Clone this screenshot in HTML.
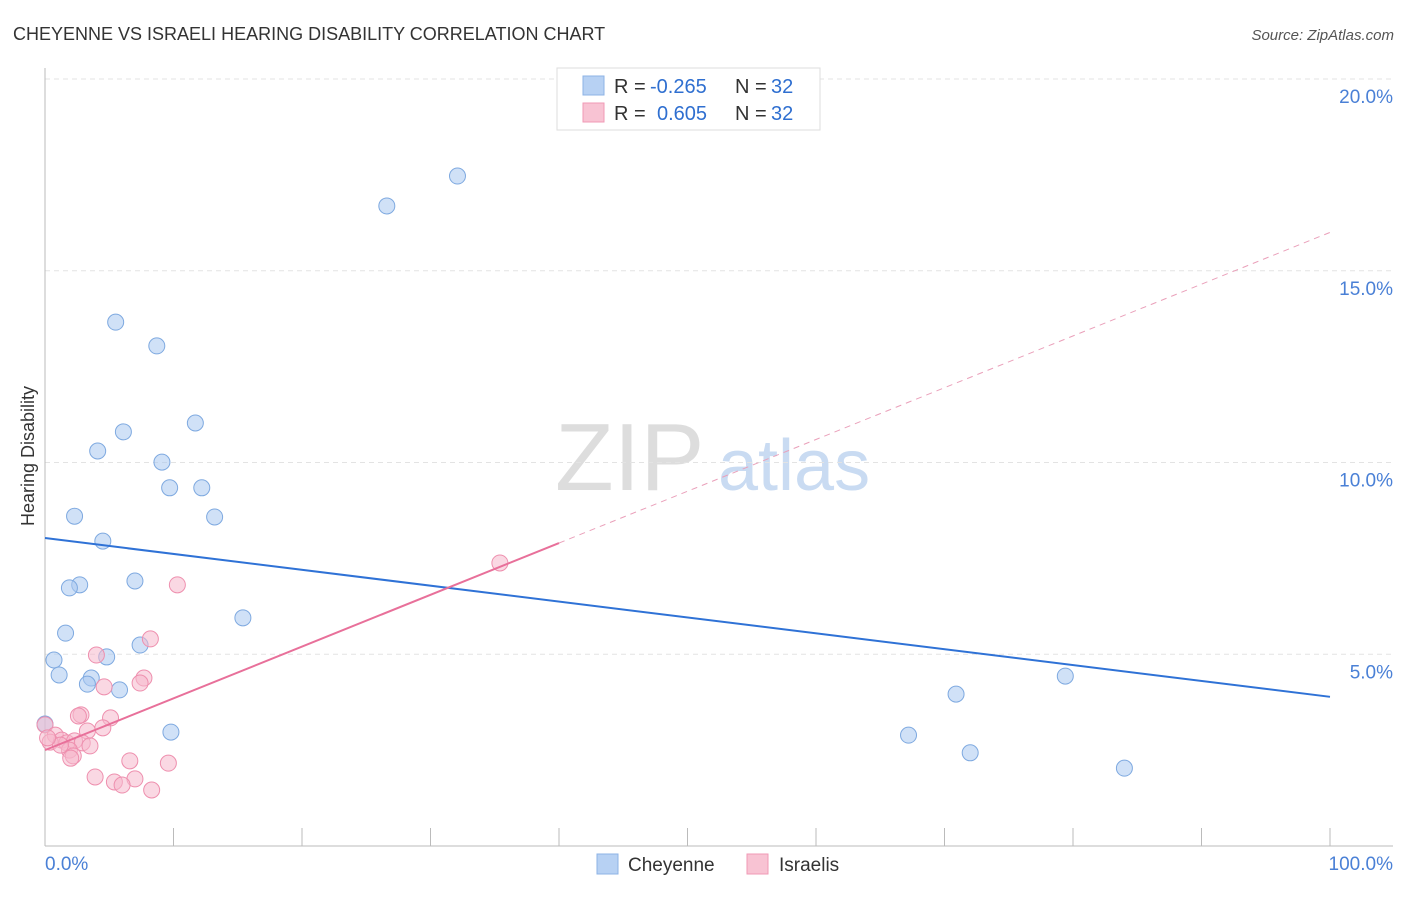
<!DOCTYPE html>
<html><head><meta charset="utf-8"><style>
body{margin:0;background:#fff;font-family:"Liberation Sans",sans-serif;}
svg text{font-family:"Liberation Sans",sans-serif;}
</style></head><body>
<svg id="chart" width="1406" height="892" xmlns="http://www.w3.org/2000/svg">
<text x="13" y="40" font-size="18" fill="#333">CHEYENNE VS ISRAELI HEARING DISABILITY CORRELATION CHART</text>
<text x="1394" y="40" font-size="15" fill="#555" text-anchor="end" font-style="italic">Source: ZipAtlas.com</text>
<g>
<text x="555" y="490" font-size="96" fill="#ddd" font-family="Liberation Serif">ZIP</text>
<text x="718" y="490" font-size="72" fill="#c9dbf2">atlas</text>
</g>
<g id="grid"></g><g id="axes"></g><g id="marks"></g>
<text transform="translate(34,456) rotate(-90)" font-size="18" fill="#333" text-anchor="middle">Hearing Disability</text>
<g>
<rect x="557" y="68" width="263" height="62" fill="#fff" stroke="#ddd"/>
<rect x="583" y="76" width="21" height="19" fill="#b7d1f3" stroke="#8db3e6"/>
<rect x="583" y="103" width="21" height="19" fill="#f8c3d3" stroke="#f09ab6"/>
<text x="614" y="93" font-size="20" fill="#333">R =</text>
<text x="650" y="93" font-size="20" fill="#2f6fd0">-0.265</text>
<text x="735" y="93" font-size="20" fill="#333">N =</text>
<text x="771" y="93" font-size="20" fill="#2f6fd0">32</text>
<text x="614" y="120" font-size="20" fill="#333">R =</text>
<text x="657" y="120" font-size="20" fill="#2f6fd0">0.605</text>
<text x="735" y="120" font-size="20" fill="#333">N =</text>
<text x="771" y="120" font-size="20" fill="#2f6fd0">32</text>
</g>
<g>
<rect x="597" y="854" width="21" height="20" fill="#b7d1f3" stroke="#8db3e6"/>
<text x="628" y="871" font-size="19" fill="#333">Cheyenne</text>
<rect x="747" y="854" width="21" height="20" fill="#f8c3d3" stroke="#f09ab6"/>
<text x="779" y="871" font-size="19" fill="#333">Israelis</text>
</g>
</svg>
<script>
const blueX=[5.5,8.7,26.6,32.1,6.1,4.1,11.7,9.1,9.7,12.2,2.3,13.2,4.5,2.7,1.9,7.0,15.4,1.6,7.4,0.7,4.8,1.1,3.6,3.3,5.8,9.8,0.0,67.2,70.9,72.0,79.4,84.0];
const blueY=[13.66,13.04,16.69,17.47,10.80,10.30,11.03,10.01,9.34,9.34,8.60,8.58,7.95,6.81,6.73,6.91,5.95,5.55,5.24,4.85,4.93,4.46,4.38,4.22,4.07,2.97,3.18,2.89,3.96,2.43,4.43,2.03];
const pinkX=[35.4,10.3,8.2,4.0,7.7,7.4,4.6,2.8,2.6,5.1,4.5,3.3,0,0.8,1.3,0.4,1.7,2.3,2.9,3.5,1.9,2.2,2.0,6.6,9.6,3.9,7.0,5.4,6.0,8.3,1.2,0.2];
const pinkY=[7.38,6.81,5.40,4.98,4.38,4.25,4.15,3.42,3.39,3.34,3.08,3.00,3.16,2.89,2.76,2.71,2.69,2.74,2.69,2.61,2.50,2.35,2.29,2.22,2.16,1.80,1.75,1.67,1.59,1.46,2.63,2.82];
const yTicks=[5,10,15,20];
const yTickLabels=["5.0%","10.0%","15.0%","20.0%"];
const xTicks=[0,10,20,30,40,50,60,70,80,90,100];
const blueTrend=[8.03,3.89];
const pinkTrend=[2.50,16.0];
const pinkSolidEnd=40;
const sx=v=>45+v*12.85, sy=v=>846-v*38.35;
const NS="http://www.w3.org/2000/svg";
function mk(t,a,p){const e=document.createElementNS(NS,t);for(const k in a)e.setAttribute(k,a[k]);p.appendChild(e);return e;}
const grid=document.getElementById('grid'),axes=document.getElementById('axes'),marks=document.getElementById('marks');
yTicks.forEach((v,i)=>{
 const l=mk('line',{x1:45,x2:1393,y1:sy(v),y2:sy(v),stroke:'#e3e3e3','stroke-dasharray':'5,4'},grid);
 
 
 const t=mk('text',{x:1393,y:sy(v)+24,'font-size':19,fill:'#4a80d6','text-anchor':'end'},axes);
 t.textContent=yTickLabels[i];
 
 
});
const ax=mk('line',{x1:45,x2:45,y1:68,y2:846,stroke:'#bbb'},axes);


const bx=mk('line',{x1:45,x2:1393,y1:846,y2:846,stroke:'#bbb'},axes);


xTicks.forEach(v=>{const t=mk('line',{x1:sx(v),x2:sx(v),y1:828,y2:846,stroke:'#bbb'},axes);
 
 });
const xl0=mk('text',{x:45,y:870,'font-size':19,fill:'#4a80d6'},axes);xl0.textContent='0.0%';


const xl1=mk('text',{x:1393,y:870,'font-size':19,fill:'#4a80d6','text-anchor':'end'},axes);xl1.textContent='100.0%';


blueX.forEach((x,i)=>{const c=mk('circle',{cx:sx(x),cy:sy(blueY[i]),r:8,fill:'#a9c8f0','fill-opacity':0.55,stroke:'#7ea9e0','stroke-width':1},marks);
 
 });
pinkX.forEach((x,i)=>{const c=mk('circle',{cx:sx(x),cy:sy(pinkY[i]),r:8,fill:'#f5b8cc','fill-opacity':0.55,stroke:'#ee8fae','stroke-width':1},marks);
 
 });
const bt=mk('line',{x1:sx(0),y1:sy(blueTrend[0]),x2:sx(100),y2:sy(blueTrend[1]),stroke:'#2f72d6','stroke-width':2},marks);


const pm=pinkTrend[0]+(pinkTrend[1]-pinkTrend[0])*pinkSolidEnd/100;
const ps=mk('line',{x1:sx(0),y1:sy(pinkTrend[0]),x2:sx(pinkSolidEnd),y2:sy(pm),stroke:'#e8709a','stroke-width':2},marks);


const pd=mk('line',{x1:sx(pinkSolidEnd),y1:sy(pm),x2:sx(100),y2:sy(pinkTrend[1]),stroke:'#eaa0ba','stroke-width':1,'stroke-dasharray':'6,5'},marks);


</script>
</body></html>
